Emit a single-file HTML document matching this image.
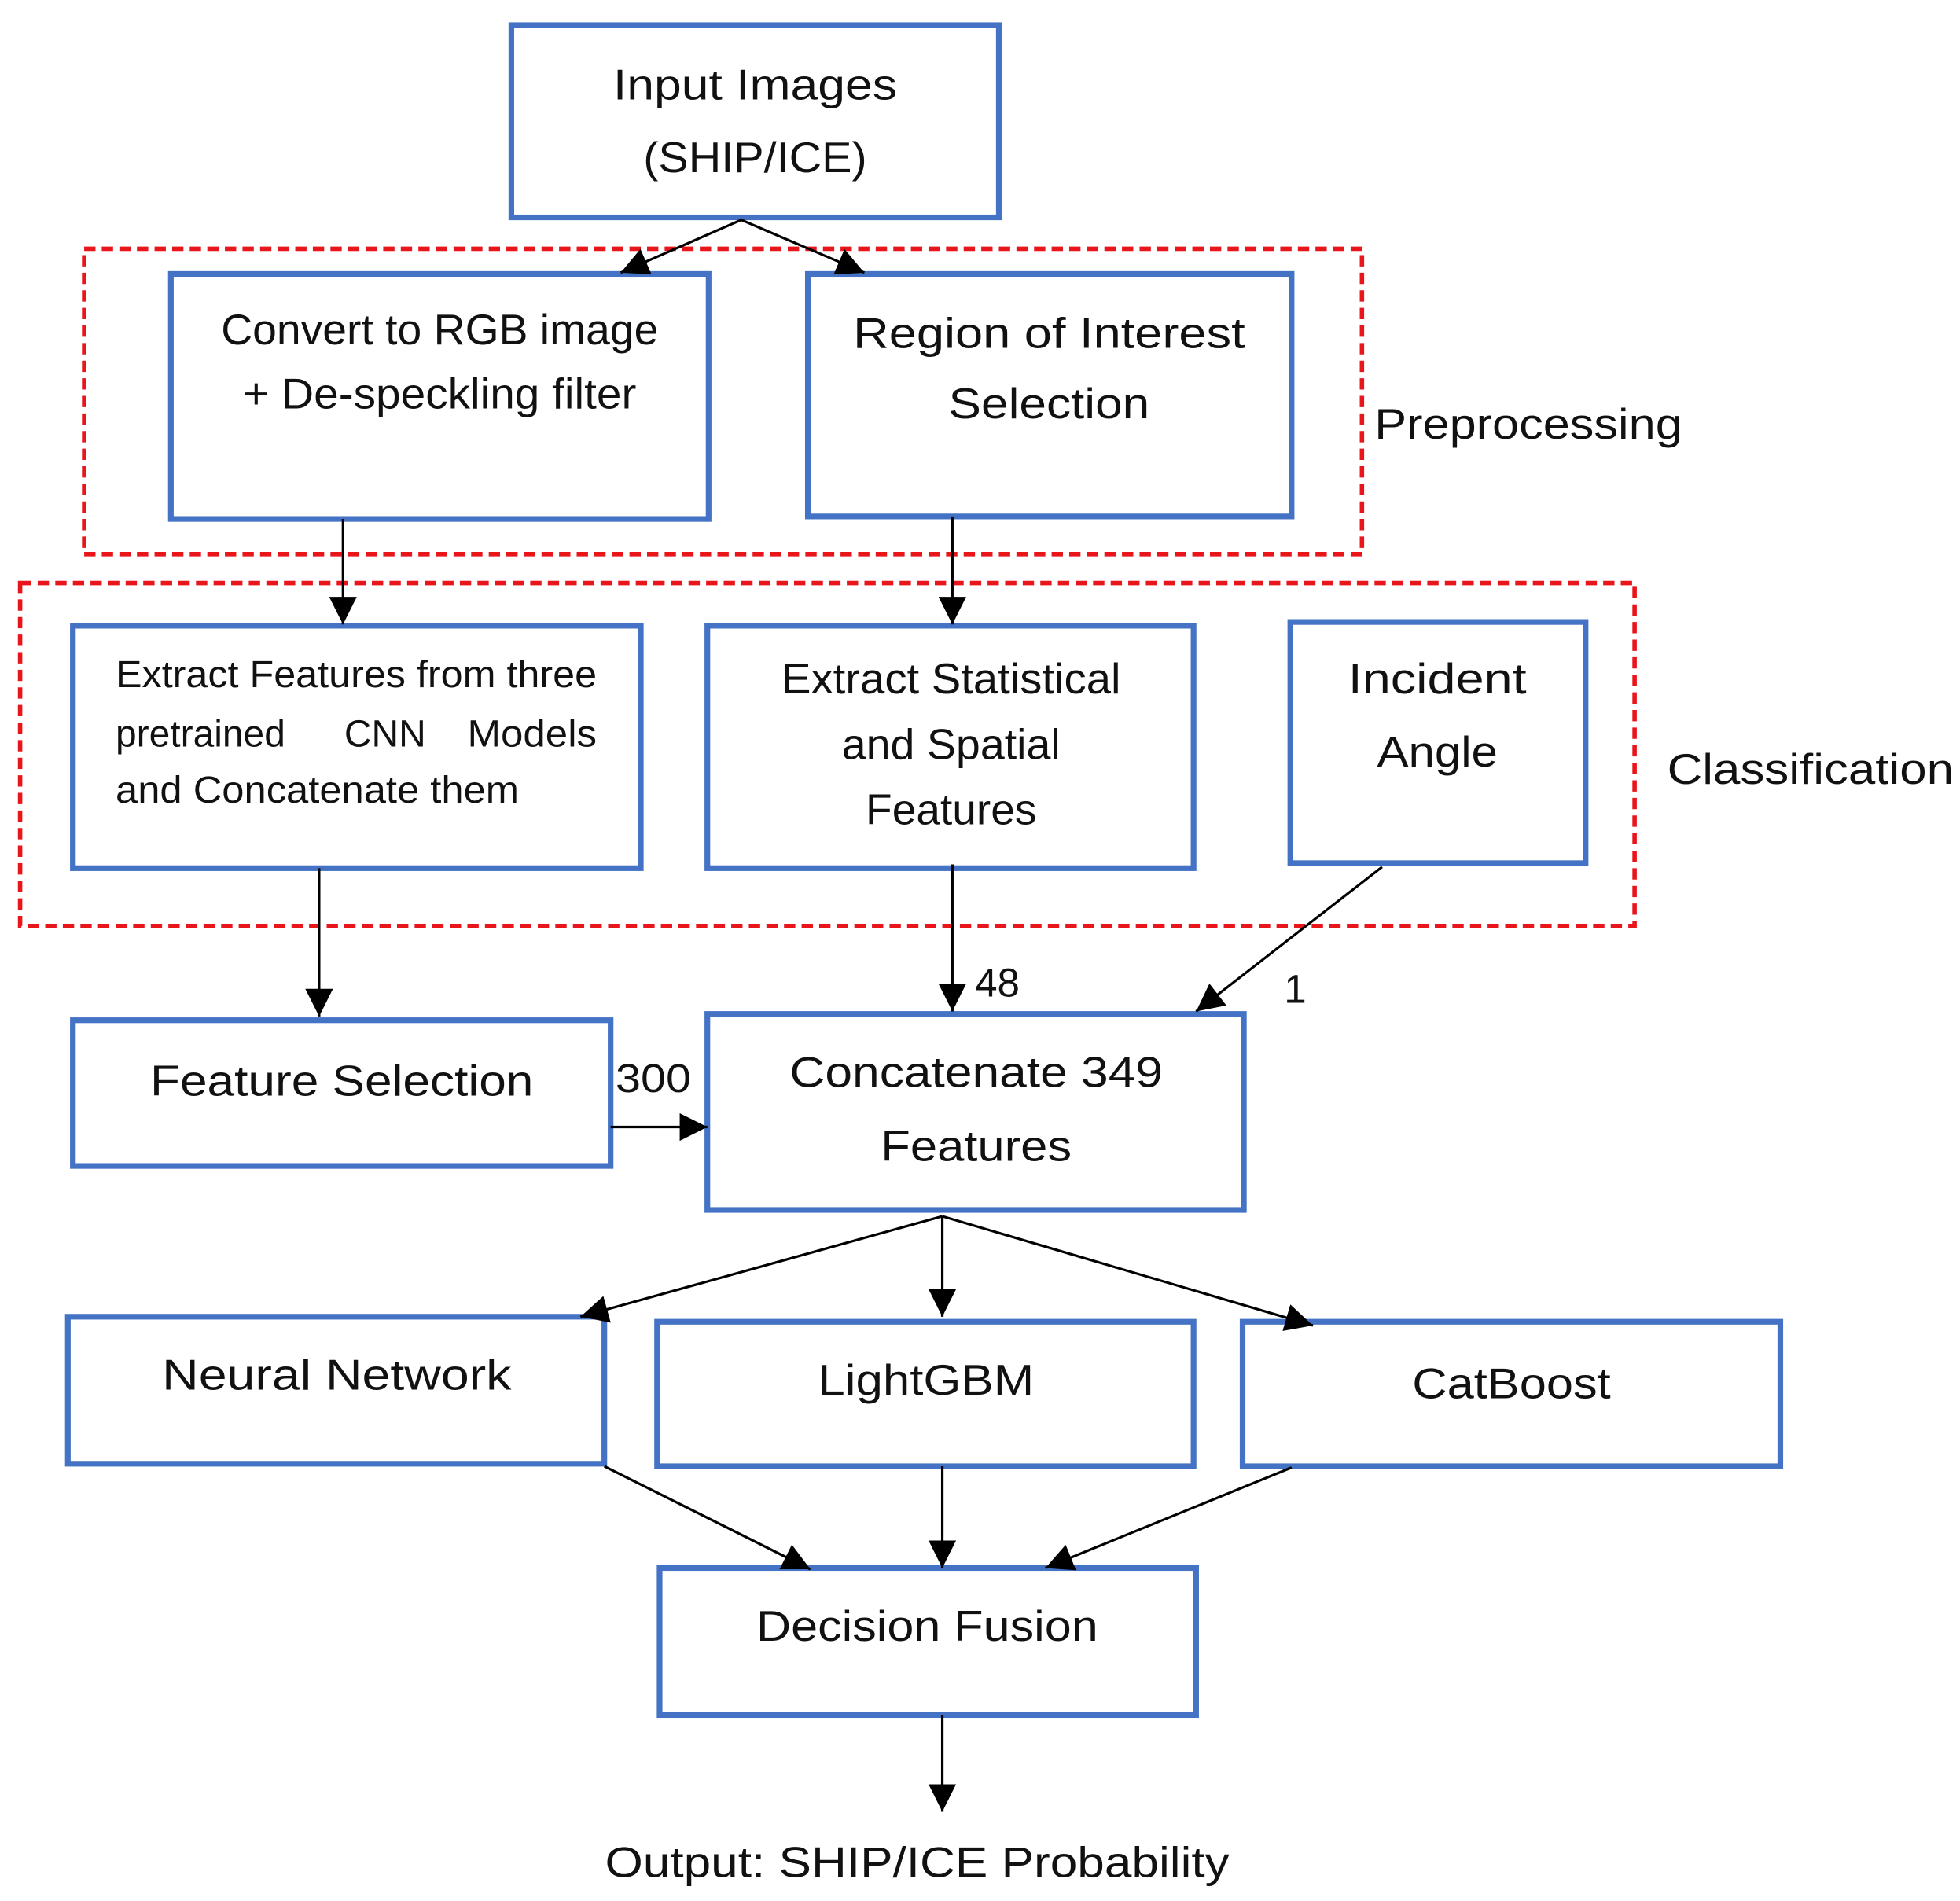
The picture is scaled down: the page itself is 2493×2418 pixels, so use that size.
<!DOCTYPE html>
<html><head><meta charset="utf-8"><style>html,body{margin:0;padding:0;background:#fff}svg{display:block}</style></head>
<body>
<svg width="2493" height="2418" viewBox="0 0 1560 1513" xmlns="http://www.w3.org/2000/svg" font-family="'Liberation Sans', sans-serif" font-size="34" fill="#111">
<defs>
<marker id="a" viewBox="0 0 10 10" refX="10" refY="5" markerWidth="22" markerHeight="22" markerUnits="userSpaceOnUse" orient="auto"><path d="M0,0L10,5L0,10z" fill="#000"/></marker>
</defs>
<rect width="1560" height="1513" fill="#fff"/>
<g fill="none" stroke="#e8151b" stroke-width="3.5" stroke-dasharray="9 5">
<rect x="67" y="198" width="1017" height="243"/>
<rect x="16" y="464" width="1285" height="273"/>
</g>
<g fill="none" stroke="#4472C4" stroke-width="4.5">
<rect x="407" y="20" width="388" height="153"/>
<rect x="136" y="218" width="428" height="195"/>
<rect x="643" y="218" width="385" height="193"/>
<rect x="58" y="498" width="452" height="193"/>
<rect x="563" y="498" width="387" height="193"/>
<rect x="1027" y="495" width="235" height="192"/>
<rect x="58" y="812" width="428" height="116"/>
<rect x="563" y="807" width="427" height="156"/>
<rect x="54" y="1048" width="427" height="117"/>
<rect x="523" y="1052" width="427" height="115"/>
<rect x="989" y="1052" width="428" height="115"/>
<rect x="525" y="1248" width="427" height="117"/>
</g>
<g stroke="#000" stroke-width="2" marker-end="url(#a)">
<line x1="590" y1="175" x2="494" y2="217"/>
<line x1="590" y1="175" x2="688" y2="217"/>
<line x1="273" y1="413" x2="273" y2="497"/>
<line x1="758" y1="411" x2="758" y2="497"/>
<line x1="254" y1="691" x2="254" y2="809"/>
<line x1="758" y1="688" x2="758" y2="805"/>
<line x1="1100" y1="690" x2="952" y2="805"/>
<line x1="486" y1="897" x2="563" y2="897"/>
<line x1="750" y1="968" x2="462" y2="1048"/>
<line x1="750" y1="968" x2="750" y2="1048"/>
<line x1="750" y1="968" x2="1045" y2="1055"/>
<line x1="481" y1="1167" x2="645" y2="1249"/>
<line x1="750" y1="1167" x2="750" y2="1248"/>
<line x1="1028" y1="1168" x2="832" y2="1248"/>
<line x1="750" y1="1365" x2="750" y2="1442"/>
</g>
<g text-anchor="middle">
<text x="601" y="79" textLength="226" lengthAdjust="spacingAndGlyphs">Input Images</text>
<text x="601" y="137" textLength="178" lengthAdjust="spacingAndGlyphs">(SHIP/ICE)</text>
<text x="350" y="274" textLength="348" lengthAdjust="spacingAndGlyphs">Convert to RGB image</text>
<text x="350" y="325" textLength="313" lengthAdjust="spacingAndGlyphs">+ De-speckling filter</text>
<text x="835" y="277" textLength="312" lengthAdjust="spacingAndGlyphs">Region of Interest</text>
<text x="835" y="333" textLength="160" lengthAdjust="spacingAndGlyphs">Selection</text>
<text x="757" y="552" textLength="270" lengthAdjust="spacingAndGlyphs">Extract Statistical</text>
<text x="757" y="604" textLength="174" lengthAdjust="spacingAndGlyphs">and Spatial</text>
<text x="757" y="656" textLength="136" lengthAdjust="spacingAndGlyphs">Features</text>
<text x="1144" y="552" textLength="142" lengthAdjust="spacingAndGlyphs">Incident</text>
<text x="1144" y="610" textLength="96" lengthAdjust="spacingAndGlyphs">Angle</text>
<text x="272" y="872" textLength="305" lengthAdjust="spacingAndGlyphs">Feature Selection</text>
<text x="777" y="865" textLength="297" lengthAdjust="spacingAndGlyphs">Concatenate 349</text>
<text x="777" y="924" textLength="152" lengthAdjust="spacingAndGlyphs">Features</text>
<text x="268" y="1106" textLength="278" lengthAdjust="spacingAndGlyphs">Neural Network</text>
<text x="737" y="1110" textLength="172" lengthAdjust="spacingAndGlyphs">LightGBM</text>
<text x="1203" y="1113" textLength="158" lengthAdjust="spacingAndGlyphs">CatBoost</text>
<text x="738" y="1306" textLength="272" lengthAdjust="spacingAndGlyphs">Decision Fusion</text>
<text x="730" y="1494" textLength="497" lengthAdjust="spacingAndGlyphs">Output: SHIP/ICE Probability</text>
</g>
<g font-size="30">
<text x="92" y="547" textLength="383" lengthAdjust="spacingAndGlyphs">Extract Features from three</text>
<text x="92" y="594">pretrained</text>
<text x="274" y="594">CNN</text>
<text x="372" y="594" textLength="103" lengthAdjust="spacingAndGlyphs">Models</text>
<text x="92" y="639" textLength="321" lengthAdjust="spacingAndGlyphs">and Concatenate them</text>
</g>
<text x="1094" y="349" textLength="245" lengthAdjust="spacingAndGlyphs">Preprocessing</text>
<text x="1327" y="624" textLength="228" lengthAdjust="spacingAndGlyphs">Classification</text>
<text x="776" y="793" font-size="32">48</text>
<text x="1022" y="798" font-size="32">1</text>
<text x="490" y="869" font-size="32" textLength="60" lengthAdjust="spacingAndGlyphs">300</text>
</svg>
</body></html>
